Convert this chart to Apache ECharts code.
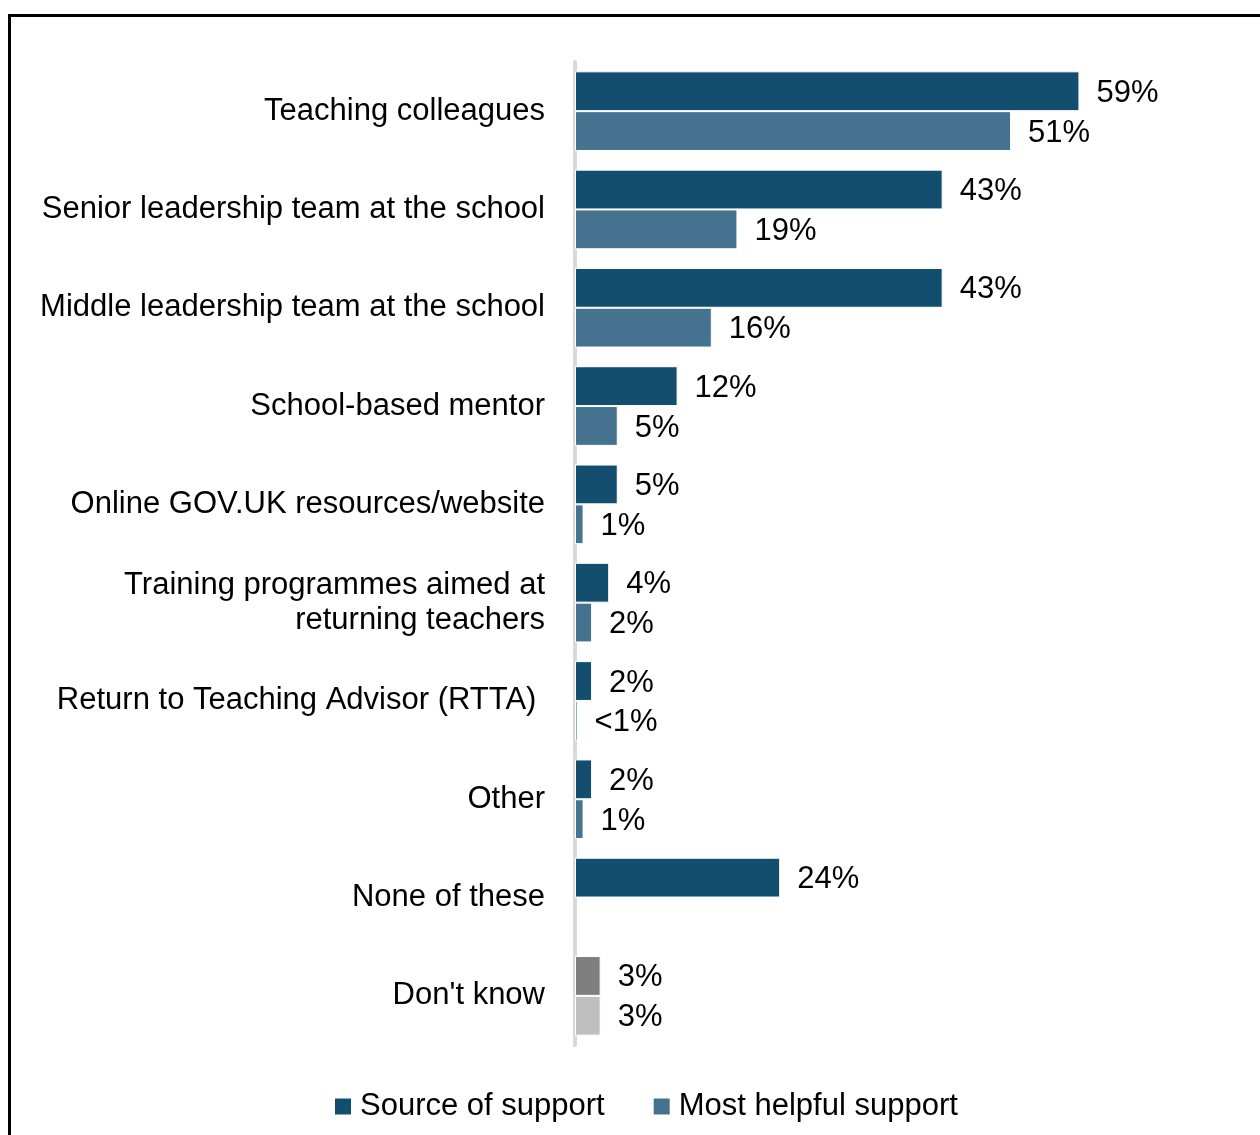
<!DOCTYPE html>
<html>
<head>
<meta charset="utf-8">
<script src="https://cdn.jsdelivr.net/npm/echarts@6/dist/echarts.min.js"></script>
<style>
  html, body { margin: 0; padding: 0; background: #ffffff; }
  #chart { width: 1260px; height: 1135px; }
</style>
</head>
<body>
<div id="chart"></div>
<script>
// Sources of support used by returning teachers, and the one found most helpful (%)
const categories = [
  'Teaching colleagues',
  'Senior leadership team at the school',
  'Middle leadership team at the school',
  'School-based mentor',
  'Online GOV.UK resources/website',
  'Training programmes aimed at\nreturning teachers',
  'Return to Teaching Advisor (RTTA) ',
  'Other',
  'None of these',
  "Don't know"
];
const sourceOfSupport = [59, 43, 43, 12, 5, 4, 2, 2, 24, 3];
const mostHelpfulSupport = [51, 19, 16, 5, 1, 2, 0.3, 1, null, 3];
const seriesNames = ['Source of support', 'Most helpful support'];

const FONT = '"Liberation Sans", Arial, sans-serif';
const FS = 31;
const DARK = '#134e6f';
const LIGHT = '#44728f';
// "Don't know" bars are shown in neutral greys
const DK_DARK = '#7f7f7f';
const DK_LIGHT = '#bfbfbf';

function pctLabel(p) {
  const v = p.value;
  if (v == null) return '';
  return v < 1 ? '<1%' : v + '%';
}

function toData(values, greyColor) {
  return values.map((v, i) => {
    if (categories[i] === "Don't know") {
      return { value: v, itemStyle: { color: greyColor } };
    }
    return v;
  });
}

const valueLabel = {
  show: true,
  position: 'right',
  distance: 17,
  offset: [0, 2],
  fontSize: FS,
  color: '#000000',
  fontFamily: FONT,
  formatter: pctLabel
};

const chart = echarts.init(document.getElementById('chart'));
chart.setOption({
  backgroundColor: '#ffffff',
  animation: false,
  textStyle: { fontFamily: FONT },
  graphic: [{
    type: 'rect',
    shape: { x: 9.5, y: 15.5, width: 1400, height: 1300 },
    style: { fill: 'none', stroke: '#000000', lineWidth: 3 },
    silent: true
  }],
  legend: {
    top: 1091,
    left: 333,
    padding: 0,
    itemWidth: 18,
    itemHeight: 18,
    itemGap: 47,
    icon: 'rect',
    textStyle: { fontSize: FS, color: '#000000', fontFamily: FONT, padding: [0, 0, 0, 3] },
    data: seriesNames
  },
  grid: { left: 575, top: 62, width: 513, height: 983, containLabel: false },
  xAxis: {
    type: 'value',
    min: 0,
    max: 60,
    show: false,
    splitLine: { show: false }
  },
  yAxis: {
    type: 'category',
    inverse: true,
    data: categories,
    axisLine: { show: true, lineStyle: { color: '#d9d9d9', width: 4 } },
    axisTick: { show: false },
    axisLabel: {
      margin: 30,
      fontSize: FS,
      lineHeight: 35,
      color: '#000000',
      fontFamily: FONT,
      align: 'right'
    }
  },
  series: [
    {
      name: seriesNames[0],
      type: 'bar',
      data: toData(sourceOfSupport, DK_DARK),
      barGap: '0%',
      barCategoryGap: '19%',
      itemStyle: { color: DARK, borderColor: '#ffffff', borderWidth: 1 },
      label: valueLabel
    },
    {
      name: seriesNames[1],
      type: 'bar',
      data: toData(mostHelpfulSupport, DK_LIGHT),
      barGap: '0%',
      barCategoryGap: '19%',
      itemStyle: { color: LIGHT, borderColor: '#ffffff', borderWidth: 1 },
      label: valueLabel
    }
  ]
});
</script>
</body>
</html>
